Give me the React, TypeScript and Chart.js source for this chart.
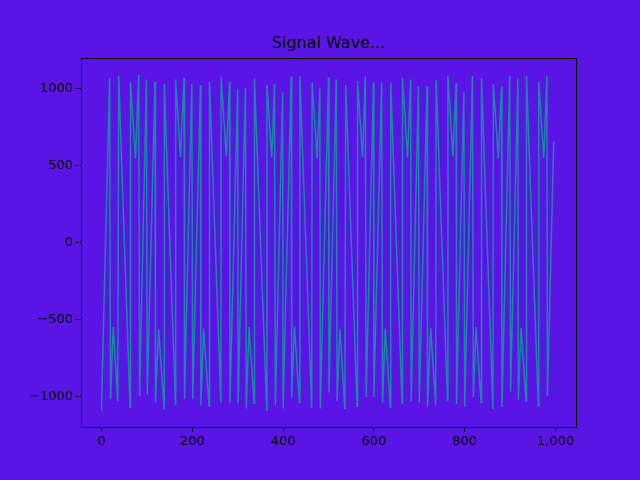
import React, { useEffect, useRef } from 'react';
import { Chart, registerables } from 'chart.js';

Chart.register(...registerables);

const xs = [0, 18, 20, 26, 36, 38, 63, 64, 75, 82, 84, 99, 101, 118, 119, 126, 138, 138.5, 163, 163.5, 174, 182, 183, 199, 201, 218, 219, 225, 237, 238, 263, 263.5, 275, 282, 283, 300, 301, 317, 319, 325, 336, 337, 364, 364.5, 375, 381, 383, 399, 400, 418, 419, 425, 436, 437, 463, 464, 475, 481, 482, 500, 501, 517, 519, 525, 536, 538, 563, 564, 575, 581, 583, 599, 600, 617, 619, 625, 636, 637, 662, 663, 674, 681, 682, 698, 700, 717, 718, 725, 736, 737, 762, 763, 774, 781, 782, 798, 800, 817, 819, 825, 836, 837, 862, 863, 874, 881, 882, 899, 901, 917, 918, 924, 935, 936, 962, 963, 974, 981, 982, 996];
const ys = [-1090, 1070, -1020, -550, -1030, 1085, -1070, 1040, 545, 1090, -1000, 1060, -990, 1045, -1040, -565, -1080, 1030, -1050, 1060, 555, 1070, -1020, 1030, -1020, 1025, -1060, -560, -1065, 1045, -1040, 1075, 560, 1045, -1040, 1000, -1045, 1005, -1080, -550, -1045, 1065, -1090, 1025, 555, 1030, -1060, 975, -1080, 1080, -1010, -545, -1040, 1080, -1075, 1040, 545, 1005, -1080, 1075, -975, 1060, -1030, -560, -1085, 1025, -1065, 1050, 555, 1080, -1005, 1040, -1005, 1040, -1045, -560, -1070, 1040, -1045, 1070, 555, 1060, -1035, 1015, -1040, 1015, -1070, -555, -1060, 1055, -1025, 1085, 560, 1035, -1050, 980, -1070, 1085, -1005, -550, -1040, 1070, -1085, 1030, 545, 1015, -1070, 1085, -970, 1065, -1025, -555, -1030, 1085, -1065, 1045, 550, 1085, -1000, 655];
const xTicks = [0, 200, 400, 600, 800, 1000];
const yTicks = [-1000, -500, 0, 500, 1000];
const title = 'Signal Wave...';

const BG = '#5b14e6';
const FONT = 'DejaVu Sans';

const App = () => {
    const chartRef = useRef<HTMLCanvasElement>(null);
    const chartInstance = useRef<Chart | null>(null);

    useEffect(() => {
        if (!chartRef.current) return;
        const ctx = chartRef.current.getContext('2d');
        if (!ctx) return;
        if (chartInstance.current) chartInstance.current.destroy();

        // title + axes frame, matplotlib style
        const frame = {
            id: 'frame',
            beforeDraw(chart: Chart) {
                const c = chart.ctx;
                c.save();
                c.fillStyle = BG;
                c.fillRect(0, 0, chart.width, chart.height);
                c.restore();
            },
            afterDraw(chart: Chart) {
                const { left, right, top, bottom } = chart.chartArea;
                const c = chart.ctx;
                c.save();
                c.strokeStyle = '#000';
                c.lineWidth = 1;
                c.strokeRect(left + 0.5, top + 0.5, right - left, bottom - top);
                c.fillStyle = '#000';
                c.font = `16px ${FONT}`;
                c.textAlign = 'center';
                c.textBaseline = 'alphabetic';
                c.fillText(title, (left + right) / 2, top - 10);
                c.restore();
            }
        };

        chartInstance.current = new Chart(ctx, {
            type: 'scatter',
            data: {
                datasets: [{
                    data: xs.map((x, i) => ({ x, y: ys[i] })),
                    showLine: true,
                    borderColor: '#1d86a6',
                    borderWidth: 1.5,
                    pointRadius: 0,
                    tension: 0
                }]
            },
            options: {
                animation: false,
                responsive: false,
                layout: { padding: { top: 58, right: 64, left: 0, bottom: 0 } },
                plugins: { legend: { display: false }, tooltip: { enabled: false } },
                scales: {
                    x: {
                        type: 'linear',
                        min: -45,
                        max: 1045,
                        afterBuildTicks: (axis: any) => { axis.ticks = xTicks.map(v => ({ value: v })); },
                        afterFit: (axis: any) => { axis.height = 53; },
                        ticks: { color: '#000', font: { family: FONT, size: 13 }, padding: 2, maxRotation: 0 },
                        grid: { drawOnChartArea: false, drawTicks: true, tickLength: 5, color: '#000' },
                        border: { display: false }
                    },
                    y: {
                        min: -1200,
                        max: 1200,
                        afterBuildTicks: (axis: any) => { axis.ticks = yTicks.map(v => ({ value: v })); },
                        afterFit: (axis: any) => { axis.width = 81; },
                        ticks: {
                            color: '#000',
                            font: { family: FONT, size: 13 },
                            padding: 3,
                            callback: (v: any) => (v < 0 ? '\u2212' + Math.abs(v) : String(v))
                        },
                        grid: { drawOnChartArea: false, drawTicks: true, tickLength: 5, color: '#000' },
                        border: { display: false }
                    }
                }
            },
            plugins: [frame]
        });

        return () => {
            if (chartInstance.current) chartInstance.current.destroy();
        };
    }, []);

    return (
        <div style={{ position: 'fixed', left: 0, top: 0, width: 640, height: 480 }}>
            <canvas ref={chartRef} width={640} height={480} style={{ width: 640, height: 480 }}></canvas>
        </div>
    );
};

export default App;
